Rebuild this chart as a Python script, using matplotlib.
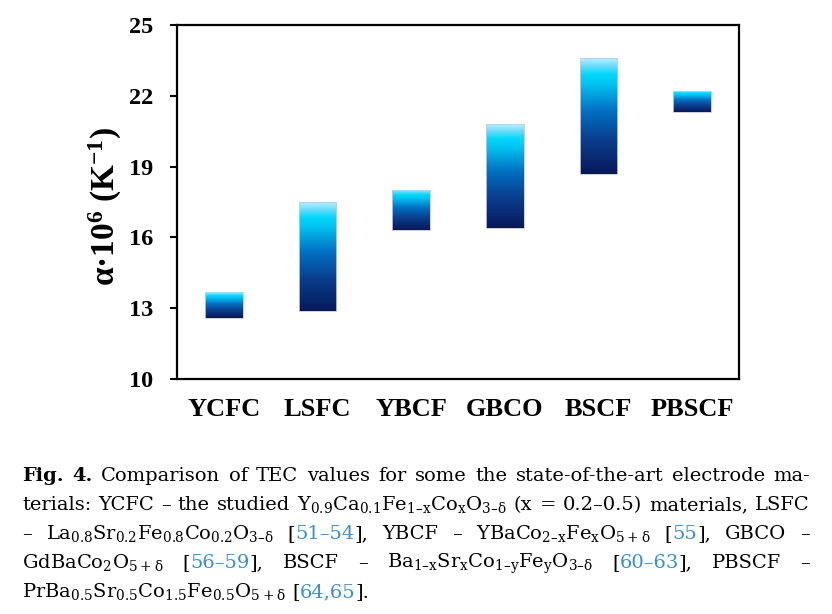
import numpy as np
import matplotlib.pyplot as plt
from matplotlib.colors import LinearSegmentedColormap

plt.rcParams.update({
    'mathtext.default': 'regular',
    'font.family': 'Liberation Serif',
    'font.weight': 'bold',
    'xtick.labelsize': 19,
    'ytick.labelsize': 17.5,
})

# TEC ranges (alpha * 10^6, 1/K)
materials = ['YCFC', 'LSFC', 'YBCF', 'GBCO', 'BSCF', 'PBSCF']
tec_low = [12.6, 12.9, 16.3, 16.4, 18.7, 21.3]
tec_high = [13.7, 17.5, 18.0, 20.8, 23.6, 22.2]
y_ticks = [10, 13, 16, 19, 22, 25]

# caption: '§' = bold word, text between '@' = blue reference numbers
caption_lines = [
    "§Fig. §4. Comparison of TEC values for some the state-of-the-art electrode ma-",
    "terials: YCFC – the studied Y$_{0.9}$Ca$_{0.1}$Fe$_{1–x}$Co$_{x}$O$_{3–δ}$ (x = 0.2–0.5) materials, LSFC",
    "– La$_{0.8}$Sr$_{0.2}$Fe$_{0.8}$Co$_{0.2}$O$_{3–δ}$ [@51–54@], YBCF – YBaCo$_{2–x}$Fe$_{x}$O$_{5+δ}$ [@55@], GBCO –",
    "GdBaCo$_{2}$O$_{5+δ}$ [@56–59@], BSCF – Ba$_{1–x}$Sr$_{x}$Co$_{1–y}$Fe$_{y}$O$_{3–δ}$ [@60–63@], PBSCF –",
    "PrBa$_{0.5}$Sr$_{0.5}$Co$_{1.5}$Fe$_{0.5}$O$_{5+δ}$ [@64,65@].",
]
ref_blue = '#3a8fd0'

bar_cmap = LinearSegmentedColormap.from_list('tec', [
    (0.00, '#06185a'),
    (0.30, '#0a3f8f'),
    (0.55, '#0072c4'),
    (0.78, '#00c4f2'),
    (0.86, '#00d8fa'),
    (0.92, '#5cd8f8'),
    (1.00, '#bdeefc'),
])

fig = plt.figure(figsize=(8.32, 6.14), dpi=100)
ax = fig.add_axes([177 / 832, 1 - 379 / 614, 562 / 832, 354 / 614])
ax.tick_params(axis='y', direction='out', length=5, width=1.5, pad=12)
ax.tick_params(axis='x', length=0, pad=14)

x = np.arange(len(materials))
heights = [h - l for l, h in zip(tec_low, tec_high)]
bars = ax.bar(x, heights, bottom=tec_low, width=0.4, facecolor='none',
              edgecolor='#c4c8e6', linewidth=0.6, zorder=3)

grad = np.linspace(0, 1, 256).reshape(-1, 1)
for patch in bars.patches:
    x0, y0 = patch.get_x(), patch.get_y()
    im = ax.imshow(grad, extent=[x0, x0 + patch.get_width(), y0, y0 + patch.get_height()],
                   origin='lower', cmap=bar_cmap, aspect='auto', zorder=2,
                   interpolation='bilinear')
    im.set_clip_path(patch)

ax.set_xlim(-0.5, 5.5)
ax.set_ylim(10, 25)
ax.set_yticks(y_ticks)
ax.set_xticks(x, labels=materials)
for sp in ax.spines.values():
    sp.set_linewidth(1.6)

ax.set_ylabel('α·10$^{6}$ (K$^{-1}$)', fontweight='bold', fontsize=24)
ax.yaxis.set_label_coords(-0.095, 0.487)

# justified caption, word by word
renderer = fig.canvas.get_renderer()
fig_w = fig.get_size_inches()[0] * fig.dpi
fig_h = fig.get_size_inches()[1] * fig.dpi
left_px, right_px = 22, 810
baselines = [481, 510, 539, 568, 597]
space_px = 6.5

for n, line in enumerate(caption_lines):
    words = []
    for word in line.split():
        bold = word.startswith('§')
        word = word.replace('§', '')
        pieces = []
        for i, part in enumerate(word.split('@')):
            if not part:
                continue
            t = fig.text(0, 1 - baselines[n] / fig_h, part, fontsize=14,
                         fontfamily='DejaVu Serif',
                         fontweight='bold' if bold else 'normal',
                         color=ref_blue if i % 2 else 'black',
                         ha='left', va='baseline')
            pieces.append((t, t.get_window_extent(renderer).width))
        words.append(pieces)
    widths = [sum(w for _, w in p) for p in words]
    last = n == len(caption_lines) - 1
    if last or len(words) < 2:
        gap = space_px
    else:
        gap = (right_px - left_px - sum(widths)) / (len(words) - 1)
    cur = left_px
    for pieces, wsum in zip(words, widths):
        px = cur
        for t, w in pieces:
            t.set_x(px / fig_w)
            px += w
        cur += wsum + gap

fig.savefig('out.png', dpi=100)
